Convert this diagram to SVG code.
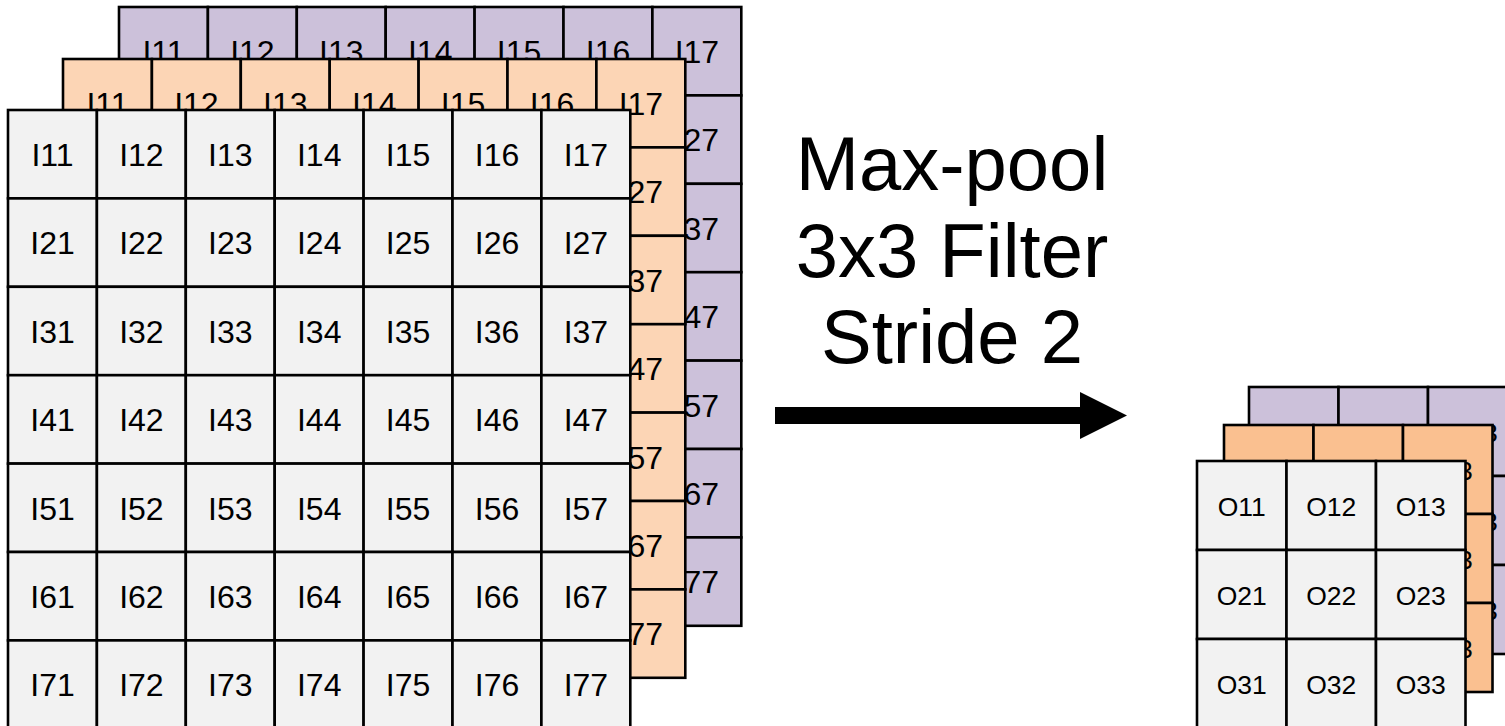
<svg xmlns="http://www.w3.org/2000/svg" width="1505" height="726" viewBox="0 0 1505 726">
<style>
rect{stroke:#000;stroke-width:2.6}
.p rect{fill:#CCC1DA}
.o rect{fill:#FCD5B5}
.oo rect{fill:#FAC090}
.g rect{fill:#F2F2F2}
.in text{font-family:"Liberation Sans",Arial,sans-serif;font-size:32px;text-anchor:middle;fill:#000}
.out text{font-family:"Liberation Sans",Arial,sans-serif;font-size:26.5px;text-anchor:middle;fill:#000}
.title{font-family:"Liberation Sans",Arial,sans-serif;font-size:76px;text-anchor:middle;fill:#000}
</style>
<rect x="0" y="0" width="1505" height="726" style="fill:#fff;stroke:none"/>

<g id="in-purple" class="in p" transform="translate(119,7)">
<g id="p11"><rect x="0" y="0" width="88.9" height="88.4"/><text x="44.5" y="56">I11</text></g>
<g id="p12"><rect x="88.9" y="0" width="88.9" height="88.4"/><text x="133.4" y="56">I12</text></g>
<g id="p13"><rect x="177.8" y="0" width="88.9" height="88.4"/><text x="222.3" y="56">I13</text></g>
<g id="p14"><rect x="266.7" y="0" width="88.9" height="88.4"/><text x="311.2" y="56">I14</text></g>
<g id="p15"><rect x="355.6" y="0" width="88.9" height="88.4"/><text x="400.1" y="56">I15</text></g>
<g id="p16"><rect x="444.5" y="0" width="88.9" height="88.4"/><text x="489" y="56">I16</text></g>
<g id="p17"><rect x="533.4" y="0" width="88.9" height="88.4"/><text x="577.9" y="56">I17</text></g>
<g id="p21"><rect x="0" y="88.4" width="88.9" height="88.4"/><text x="44.5" y="144.4">I21</text></g>
<g id="p22"><rect x="88.9" y="88.4" width="88.9" height="88.4"/><text x="133.4" y="144.4">I22</text></g>
<g id="p23"><rect x="177.8" y="88.4" width="88.9" height="88.4"/><text x="222.3" y="144.4">I23</text></g>
<g id="p24"><rect x="266.7" y="88.4" width="88.9" height="88.4"/><text x="311.2" y="144.4">I24</text></g>
<g id="p25"><rect x="355.6" y="88.4" width="88.9" height="88.4"/><text x="400.1" y="144.4">I25</text></g>
<g id="p26"><rect x="444.5" y="88.4" width="88.9" height="88.4"/><text x="489" y="144.4">I26</text></g>
<g id="p27"><rect x="533.4" y="88.4" width="88.9" height="88.4"/><text x="577.9" y="144.4">I27</text></g>
<g id="p31"><rect x="0" y="176.8" width="88.9" height="88.4"/><text x="44.5" y="232.8">I31</text></g>
<g id="p32"><rect x="88.9" y="176.8" width="88.9" height="88.4"/><text x="133.4" y="232.8">I32</text></g>
<g id="p33"><rect x="177.8" y="176.8" width="88.9" height="88.4"/><text x="222.3" y="232.8">I33</text></g>
<g id="p34"><rect x="266.7" y="176.8" width="88.9" height="88.4"/><text x="311.2" y="232.8">I34</text></g>
<g id="p35"><rect x="355.6" y="176.8" width="88.9" height="88.4"/><text x="400.1" y="232.8">I35</text></g>
<g id="p36"><rect x="444.5" y="176.8" width="88.9" height="88.4"/><text x="489" y="232.8">I36</text></g>
<g id="p37"><rect x="533.4" y="176.8" width="88.9" height="88.4"/><text x="577.9" y="232.8">I37</text></g>
<g id="p41"><rect x="0" y="265.2" width="88.9" height="88.4"/><text x="44.5" y="321.2">I41</text></g>
<g id="p42"><rect x="88.9" y="265.2" width="88.9" height="88.4"/><text x="133.4" y="321.2">I42</text></g>
<g id="p43"><rect x="177.8" y="265.2" width="88.9" height="88.4"/><text x="222.3" y="321.2">I43</text></g>
<g id="p44"><rect x="266.7" y="265.2" width="88.9" height="88.4"/><text x="311.2" y="321.2">I44</text></g>
<g id="p45"><rect x="355.6" y="265.2" width="88.9" height="88.4"/><text x="400.1" y="321.2">I45</text></g>
<g id="p46"><rect x="444.5" y="265.2" width="88.9" height="88.4"/><text x="489" y="321.2">I46</text></g>
<g id="p47"><rect x="533.4" y="265.2" width="88.9" height="88.4"/><text x="577.9" y="321.2">I47</text></g>
<g id="p51"><rect x="0" y="353.6" width="88.9" height="88.4"/><text x="44.5" y="409.6">I51</text></g>
<g id="p52"><rect x="88.9" y="353.6" width="88.9" height="88.4"/><text x="133.4" y="409.6">I52</text></g>
<g id="p53"><rect x="177.8" y="353.6" width="88.9" height="88.4"/><text x="222.3" y="409.6">I53</text></g>
<g id="p54"><rect x="266.7" y="353.6" width="88.9" height="88.4"/><text x="311.2" y="409.6">I54</text></g>
<g id="p55"><rect x="355.6" y="353.6" width="88.9" height="88.4"/><text x="400.1" y="409.6">I55</text></g>
<g id="p56"><rect x="444.5" y="353.6" width="88.9" height="88.4"/><text x="489" y="409.6">I56</text></g>
<g id="p57"><rect x="533.4" y="353.6" width="88.9" height="88.4"/><text x="577.9" y="409.6">I57</text></g>
<g id="p61"><rect x="0" y="442" width="88.9" height="88.4"/><text x="44.5" y="498">I61</text></g>
<g id="p62"><rect x="88.9" y="442" width="88.9" height="88.4"/><text x="133.4" y="498">I62</text></g>
<g id="p63"><rect x="177.8" y="442" width="88.9" height="88.4"/><text x="222.3" y="498">I63</text></g>
<g id="p64"><rect x="266.7" y="442" width="88.9" height="88.4"/><text x="311.2" y="498">I64</text></g>
<g id="p65"><rect x="355.6" y="442" width="88.9" height="88.4"/><text x="400.1" y="498">I65</text></g>
<g id="p66"><rect x="444.5" y="442" width="88.9" height="88.4"/><text x="489" y="498">I66</text></g>
<g id="p67"><rect x="533.4" y="442" width="88.9" height="88.4"/><text x="577.9" y="498">I67</text></g>
<g id="p71"><rect x="0" y="530.4" width="88.9" height="88.4"/><text x="44.5" y="586.4">I71</text></g>
<g id="p72"><rect x="88.9" y="530.4" width="88.9" height="88.4"/><text x="133.4" y="586.4">I72</text></g>
<g id="p73"><rect x="177.8" y="530.4" width="88.9" height="88.4"/><text x="222.3" y="586.4">I73</text></g>
<g id="p74"><rect x="266.7" y="530.4" width="88.9" height="88.4"/><text x="311.2" y="586.4">I74</text></g>
<g id="p75"><rect x="355.6" y="530.4" width="88.9" height="88.4"/><text x="400.1" y="586.4">I75</text></g>
<g id="p76"><rect x="444.5" y="530.4" width="88.9" height="88.4"/><text x="489" y="586.4">I76</text></g>
<g id="p77"><rect x="533.4" y="530.4" width="88.9" height="88.4"/><text x="577.9" y="586.4">I77</text></g>
</g>

<g id="in-orange" class="in o" transform="translate(63,59)">
<g id="o11"><rect x="0" y="0" width="88.9" height="88.4"/><text x="44.5" y="56">I11</text></g>
<g id="o12"><rect x="88.9" y="0" width="88.9" height="88.4"/><text x="133.4" y="56">I12</text></g>
<g id="o13"><rect x="177.8" y="0" width="88.9" height="88.4"/><text x="222.3" y="56">I13</text></g>
<g id="o14"><rect x="266.7" y="0" width="88.9" height="88.4"/><text x="311.2" y="56">I14</text></g>
<g id="o15"><rect x="355.6" y="0" width="88.9" height="88.4"/><text x="400.1" y="56">I15</text></g>
<g id="o16"><rect x="444.5" y="0" width="88.9" height="88.4"/><text x="489" y="56">I16</text></g>
<g id="o17"><rect x="533.4" y="0" width="88.9" height="88.4"/><text x="577.9" y="56">I17</text></g>
<g id="o21"><rect x="0" y="88.4" width="88.9" height="88.4"/><text x="44.5" y="144.4">I21</text></g>
<g id="o22"><rect x="88.9" y="88.4" width="88.9" height="88.4"/><text x="133.4" y="144.4">I22</text></g>
<g id="o23"><rect x="177.8" y="88.4" width="88.9" height="88.4"/><text x="222.3" y="144.4">I23</text></g>
<g id="o24"><rect x="266.7" y="88.4" width="88.9" height="88.4"/><text x="311.2" y="144.4">I24</text></g>
<g id="o25"><rect x="355.6" y="88.4" width="88.9" height="88.4"/><text x="400.1" y="144.4">I25</text></g>
<g id="o26"><rect x="444.5" y="88.4" width="88.9" height="88.4"/><text x="489" y="144.4">I26</text></g>
<g id="o27"><rect x="533.4" y="88.4" width="88.9" height="88.4"/><text x="577.9" y="144.4">I27</text></g>
<g id="o31"><rect x="0" y="176.8" width="88.9" height="88.4"/><text x="44.5" y="232.8">I31</text></g>
<g id="o32"><rect x="88.9" y="176.8" width="88.9" height="88.4"/><text x="133.4" y="232.8">I32</text></g>
<g id="o33"><rect x="177.8" y="176.8" width="88.9" height="88.4"/><text x="222.3" y="232.8">I33</text></g>
<g id="o34"><rect x="266.7" y="176.8" width="88.9" height="88.4"/><text x="311.2" y="232.8">I34</text></g>
<g id="o35"><rect x="355.6" y="176.8" width="88.9" height="88.4"/><text x="400.1" y="232.8">I35</text></g>
<g id="o36"><rect x="444.5" y="176.8" width="88.9" height="88.4"/><text x="489" y="232.8">I36</text></g>
<g id="o37"><rect x="533.4" y="176.8" width="88.9" height="88.4"/><text x="577.9" y="232.8">I37</text></g>
<g id="o41"><rect x="0" y="265.2" width="88.9" height="88.4"/><text x="44.5" y="321.2">I41</text></g>
<g id="o42"><rect x="88.9" y="265.2" width="88.9" height="88.4"/><text x="133.4" y="321.2">I42</text></g>
<g id="o43"><rect x="177.8" y="265.2" width="88.9" height="88.4"/><text x="222.3" y="321.2">I43</text></g>
<g id="o44"><rect x="266.7" y="265.2" width="88.9" height="88.4"/><text x="311.2" y="321.2">I44</text></g>
<g id="o45"><rect x="355.6" y="265.2" width="88.9" height="88.4"/><text x="400.1" y="321.2">I45</text></g>
<g id="o46"><rect x="444.5" y="265.2" width="88.9" height="88.4"/><text x="489" y="321.2">I46</text></g>
<g id="o47"><rect x="533.4" y="265.2" width="88.9" height="88.4"/><text x="577.9" y="321.2">I47</text></g>
<g id="o51"><rect x="0" y="353.6" width="88.9" height="88.4"/><text x="44.5" y="409.6">I51</text></g>
<g id="o52"><rect x="88.9" y="353.6" width="88.9" height="88.4"/><text x="133.4" y="409.6">I52</text></g>
<g id="o53"><rect x="177.8" y="353.6" width="88.9" height="88.4"/><text x="222.3" y="409.6">I53</text></g>
<g id="o54"><rect x="266.7" y="353.6" width="88.9" height="88.4"/><text x="311.2" y="409.6">I54</text></g>
<g id="o55"><rect x="355.6" y="353.6" width="88.9" height="88.4"/><text x="400.1" y="409.6">I55</text></g>
<g id="o56"><rect x="444.5" y="353.6" width="88.9" height="88.4"/><text x="489" y="409.6">I56</text></g>
<g id="o57"><rect x="533.4" y="353.6" width="88.9" height="88.4"/><text x="577.9" y="409.6">I57</text></g>
<g id="o61"><rect x="0" y="442" width="88.9" height="88.4"/><text x="44.5" y="498">I61</text></g>
<g id="o62"><rect x="88.9" y="442" width="88.9" height="88.4"/><text x="133.4" y="498">I62</text></g>
<g id="o63"><rect x="177.8" y="442" width="88.9" height="88.4"/><text x="222.3" y="498">I63</text></g>
<g id="o64"><rect x="266.7" y="442" width="88.9" height="88.4"/><text x="311.2" y="498">I64</text></g>
<g id="o65"><rect x="355.6" y="442" width="88.9" height="88.4"/><text x="400.1" y="498">I65</text></g>
<g id="o66"><rect x="444.5" y="442" width="88.9" height="88.4"/><text x="489" y="498">I66</text></g>
<g id="o67"><rect x="533.4" y="442" width="88.9" height="88.4"/><text x="577.9" y="498">I67</text></g>
<g id="o71"><rect x="0" y="530.4" width="88.9" height="88.4"/><text x="44.5" y="586.4">I71</text></g>
<g id="o72"><rect x="88.9" y="530.4" width="88.9" height="88.4"/><text x="133.4" y="586.4">I72</text></g>
<g id="o73"><rect x="177.8" y="530.4" width="88.9" height="88.4"/><text x="222.3" y="586.4">I73</text></g>
<g id="o74"><rect x="266.7" y="530.4" width="88.9" height="88.4"/><text x="311.2" y="586.4">I74</text></g>
<g id="o75"><rect x="355.6" y="530.4" width="88.9" height="88.4"/><text x="400.1" y="586.4">I75</text></g>
<g id="o76"><rect x="444.5" y="530.4" width="88.9" height="88.4"/><text x="489" y="586.4">I76</text></g>
<g id="o77"><rect x="533.4" y="530.4" width="88.9" height="88.4"/><text x="577.9" y="586.4">I77</text></g>
</g>

<g id="in-grey" class="in g" transform="translate(8,110)">
<g id="g11"><rect x="0" y="0" width="88.9" height="88.4"/><text x="44.5" y="56">I11</text></g>
<g id="g12"><rect x="88.9" y="0" width="88.9" height="88.4"/><text x="133.4" y="56">I12</text></g>
<g id="g13"><rect x="177.8" y="0" width="88.9" height="88.4"/><text x="222.3" y="56">I13</text></g>
<g id="g14"><rect x="266.7" y="0" width="88.9" height="88.4"/><text x="311.2" y="56">I14</text></g>
<g id="g15"><rect x="355.6" y="0" width="88.9" height="88.4"/><text x="400.1" y="56">I15</text></g>
<g id="g16"><rect x="444.5" y="0" width="88.9" height="88.4"/><text x="489" y="56">I16</text></g>
<g id="g17"><rect x="533.4" y="0" width="88.9" height="88.4"/><text x="577.9" y="56">I17</text></g>
<g id="g21"><rect x="0" y="88.4" width="88.9" height="88.4"/><text x="44.5" y="144.4">I21</text></g>
<g id="g22"><rect x="88.9" y="88.4" width="88.9" height="88.4"/><text x="133.4" y="144.4">I22</text></g>
<g id="g23"><rect x="177.8" y="88.4" width="88.9" height="88.4"/><text x="222.3" y="144.4">I23</text></g>
<g id="g24"><rect x="266.7" y="88.4" width="88.9" height="88.4"/><text x="311.2" y="144.4">I24</text></g>
<g id="g25"><rect x="355.6" y="88.4" width="88.9" height="88.4"/><text x="400.1" y="144.4">I25</text></g>
<g id="g26"><rect x="444.5" y="88.4" width="88.9" height="88.4"/><text x="489" y="144.4">I26</text></g>
<g id="g27"><rect x="533.4" y="88.4" width="88.9" height="88.4"/><text x="577.9" y="144.4">I27</text></g>
<g id="g31"><rect x="0" y="176.8" width="88.9" height="88.4"/><text x="44.5" y="232.8">I31</text></g>
<g id="g32"><rect x="88.9" y="176.8" width="88.9" height="88.4"/><text x="133.4" y="232.8">I32</text></g>
<g id="g33"><rect x="177.8" y="176.8" width="88.9" height="88.4"/><text x="222.3" y="232.8">I33</text></g>
<g id="g34"><rect x="266.7" y="176.8" width="88.9" height="88.4"/><text x="311.2" y="232.8">I34</text></g>
<g id="g35"><rect x="355.6" y="176.8" width="88.9" height="88.4"/><text x="400.1" y="232.8">I35</text></g>
<g id="g36"><rect x="444.5" y="176.8" width="88.9" height="88.4"/><text x="489" y="232.8">I36</text></g>
<g id="g37"><rect x="533.4" y="176.8" width="88.9" height="88.4"/><text x="577.9" y="232.8">I37</text></g>
<g id="g41"><rect x="0" y="265.2" width="88.9" height="88.4"/><text x="44.5" y="321.2">I41</text></g>
<g id="g42"><rect x="88.9" y="265.2" width="88.9" height="88.4"/><text x="133.4" y="321.2">I42</text></g>
<g id="g43"><rect x="177.8" y="265.2" width="88.9" height="88.4"/><text x="222.3" y="321.2">I43</text></g>
<g id="g44"><rect x="266.7" y="265.2" width="88.9" height="88.4"/><text x="311.2" y="321.2">I44</text></g>
<g id="g45"><rect x="355.6" y="265.2" width="88.9" height="88.4"/><text x="400.1" y="321.2">I45</text></g>
<g id="g46"><rect x="444.5" y="265.2" width="88.9" height="88.4"/><text x="489" y="321.2">I46</text></g>
<g id="g47"><rect x="533.4" y="265.2" width="88.9" height="88.4"/><text x="577.9" y="321.2">I47</text></g>
<g id="g51"><rect x="0" y="353.6" width="88.9" height="88.4"/><text x="44.5" y="409.6">I51</text></g>
<g id="g52"><rect x="88.9" y="353.6" width="88.9" height="88.4"/><text x="133.4" y="409.6">I52</text></g>
<g id="g53"><rect x="177.8" y="353.6" width="88.9" height="88.4"/><text x="222.3" y="409.6">I53</text></g>
<g id="g54"><rect x="266.7" y="353.6" width="88.9" height="88.4"/><text x="311.2" y="409.6">I54</text></g>
<g id="g55"><rect x="355.6" y="353.6" width="88.9" height="88.4"/><text x="400.1" y="409.6">I55</text></g>
<g id="g56"><rect x="444.5" y="353.6" width="88.9" height="88.4"/><text x="489" y="409.6">I56</text></g>
<g id="g57"><rect x="533.4" y="353.6" width="88.9" height="88.4"/><text x="577.9" y="409.6">I57</text></g>
<g id="g61"><rect x="0" y="442" width="88.9" height="88.4"/><text x="44.5" y="498">I61</text></g>
<g id="g62"><rect x="88.9" y="442" width="88.9" height="88.4"/><text x="133.4" y="498">I62</text></g>
<g id="g63"><rect x="177.8" y="442" width="88.9" height="88.4"/><text x="222.3" y="498">I63</text></g>
<g id="g64"><rect x="266.7" y="442" width="88.9" height="88.4"/><text x="311.2" y="498">I64</text></g>
<g id="g65"><rect x="355.6" y="442" width="88.9" height="88.4"/><text x="400.1" y="498">I65</text></g>
<g id="g66"><rect x="444.5" y="442" width="88.9" height="88.4"/><text x="489" y="498">I66</text></g>
<g id="g67"><rect x="533.4" y="442" width="88.9" height="88.4"/><text x="577.9" y="498">I67</text></g>
<g id="g71"><rect x="0" y="530.4" width="88.9" height="88.4"/><text x="44.5" y="586.4">I71</text></g>
<g id="g72"><rect x="88.9" y="530.4" width="88.9" height="88.4"/><text x="133.4" y="586.4">I72</text></g>
<g id="g73"><rect x="177.8" y="530.4" width="88.9" height="88.4"/><text x="222.3" y="586.4">I73</text></g>
<g id="g74"><rect x="266.7" y="530.4" width="88.9" height="88.4"/><text x="311.2" y="586.4">I74</text></g>
<g id="g75"><rect x="355.6" y="530.4" width="88.9" height="88.4"/><text x="400.1" y="586.4">I75</text></g>
<g id="g76"><rect x="444.5" y="530.4" width="88.9" height="88.4"/><text x="489" y="586.4">I76</text></g>
<g id="g77"><rect x="533.4" y="530.4" width="88.9" height="88.4"/><text x="577.9" y="586.4">I77</text></g>
</g>

<g id="label">
<text class="title" x="952" y="190">Max-pool</text>
<text class="title" x="952" y="277">3x3 Filter</text>
<text class="title" x="952" y="363">Stride 2</text>
</g>

<g id="connectors">
<path d="M775,407 H1080 V392 L1127,415.5 L1080,439 V424 H775 Z" fill="#000"/>
</g>

<g id="out-purple" class="out p" transform="translate(1249,387)">
<g id="op11"><rect x="0" y="0" width="89.5" height="89"/><text x="44.75" y="55">O11</text></g>
<g id="op12"><rect x="89.5" y="0" width="89.5" height="89"/><text x="134.25" y="55">O12</text></g>
<g id="op13"><rect x="179" y="0" width="89.5" height="89"/><text x="223.75" y="55">O13</text></g>
<g id="op21"><rect x="0" y="89" width="89.5" height="89"/><text x="44.75" y="144">O21</text></g>
<g id="op22"><rect x="89.5" y="89" width="89.5" height="89"/><text x="134.25" y="144">O22</text></g>
<g id="op23"><rect x="179" y="89" width="89.5" height="89"/><text x="223.75" y="144">O23</text></g>
<g id="op31"><rect x="0" y="178" width="89.5" height="89"/><text x="44.75" y="233">O31</text></g>
<g id="op32"><rect x="89.5" y="178" width="89.5" height="89"/><text x="134.25" y="233">O32</text></g>
<g id="op33"><rect x="179" y="178" width="89.5" height="89"/><text x="223.75" y="233">O33</text></g>
</g>

<g id="out-orange" class="out oo" transform="translate(1224,425)">
<g id="oo11"><rect x="0" y="0" width="89.5" height="89"/><text x="44.75" y="55">O11</text></g>
<g id="oo12"><rect x="89.5" y="0" width="89.5" height="89"/><text x="134.25" y="55">O12</text></g>
<g id="oo13"><rect x="179" y="0" width="89.5" height="89"/><text x="223.75" y="55">O13</text></g>
<g id="oo21"><rect x="0" y="89" width="89.5" height="89"/><text x="44.75" y="144">O21</text></g>
<g id="oo22"><rect x="89.5" y="89" width="89.5" height="89"/><text x="134.25" y="144">O22</text></g>
<g id="oo23"><rect x="179" y="89" width="89.5" height="89"/><text x="223.75" y="144">O23</text></g>
<g id="oo31"><rect x="0" y="178" width="89.5" height="89"/><text x="44.75" y="233">O31</text></g>
<g id="oo32"><rect x="89.5" y="178" width="89.5" height="89"/><text x="134.25" y="233">O32</text></g>
<g id="oo33"><rect x="179" y="178" width="89.5" height="89"/><text x="223.75" y="233">O33</text></g>
</g>

<g id="out-grey" class="out g" transform="translate(1197,461)">
<g id="og11"><rect x="0" y="0" width="89.5" height="89"/><text x="44.75" y="55">O11</text></g>
<g id="og12"><rect x="89.5" y="0" width="89.5" height="89"/><text x="134.25" y="55">O12</text></g>
<g id="og13"><rect x="179" y="0" width="89.5" height="89"/><text x="223.75" y="55">O13</text></g>
<g id="og21"><rect x="0" y="89" width="89.5" height="89"/><text x="44.75" y="144">O21</text></g>
<g id="og22"><rect x="89.5" y="89" width="89.5" height="89"/><text x="134.25" y="144">O22</text></g>
<g id="og23"><rect x="179" y="89" width="89.5" height="89"/><text x="223.75" y="144">O23</text></g>
<g id="og31"><rect x="0" y="178" width="89.5" height="89"/><text x="44.75" y="233">O31</text></g>
<g id="og32"><rect x="89.5" y="178" width="89.5" height="89"/><text x="134.25" y="233">O32</text></g>
<g id="og33"><rect x="179" y="178" width="89.5" height="89"/><text x="223.75" y="233">O33</text></g>
</g>
</svg>
